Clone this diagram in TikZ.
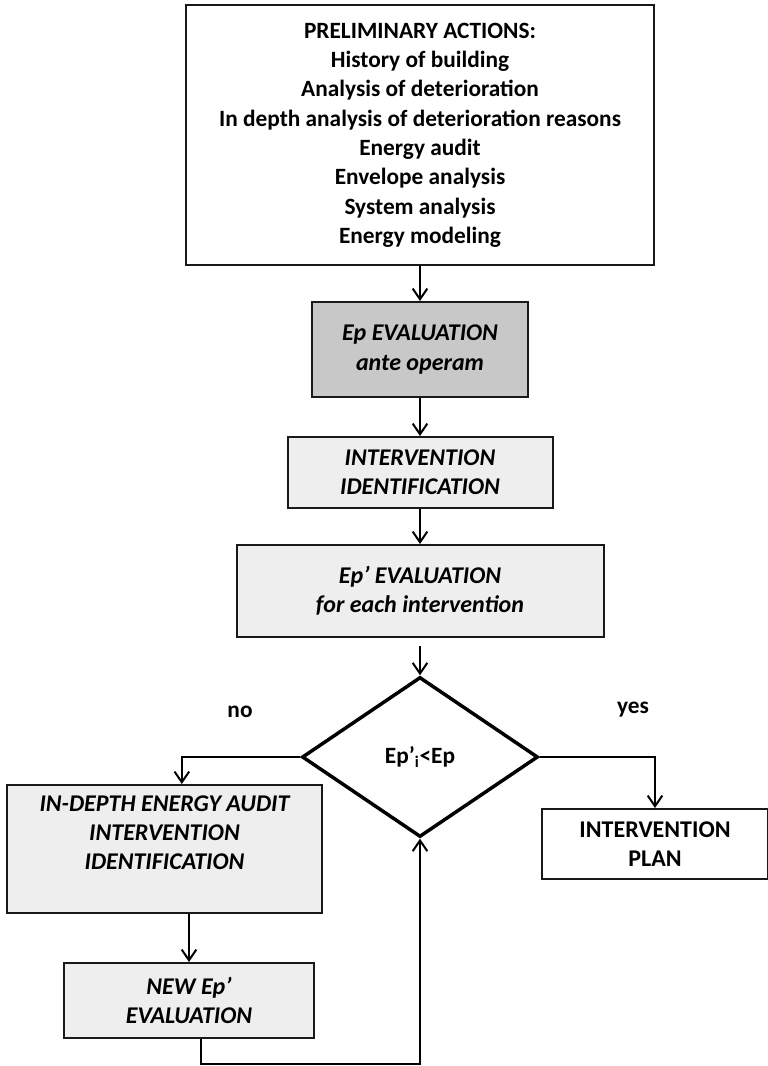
\documentclass[tikz,border=0pt]{standalone}
\usepackage{fontspec}
\setmainfont{Carlito}
\usetikzlibrary{shapes.geometric,arrows.meta}
\definecolor{opgray}{RGB}{200,200,200}
\definecolor{boxgray}{RGB}{238,238,238}

\begin{document}
\begin{tikzpicture}[x=0.75pt,y=-0.75pt,line width=1.5pt,
   box/.style={draw=black!90,fill=boxgray,align=center,inner sep=0pt,
     font=\fontsize{18}{21.8}\selectfont\bfseries\itshape},
   arr/.style={-{Straight Barb[length=8pt,width=11pt]}}]
\useasboundingbox (0,0) rectangle (767,1066);
\node[box,fill=white,font=\fontsize{17.5}{22}\selectfont\bfseries,
   minimum width=351pt,minimum height=195pt] (P) at (420,135)
   {PRELIMINARY ACTIONS:\\History of building\\Analysis of deterioration\\
    In depth analysis of deterioration reasons\\Energy audit\\Envelope analysis\\
    System analysis\\Energy modeling};
\node[box,fill=opgray,minimum width=162pt,minimum height=71.25pt] (E) at (420,349.5)
   {Ep EVALUATION\\ante operam};
\node[box,minimum width=198.75pt,minimum height=53.25pt] (I) at (420,472.5)
   {INTERVENTION\\IDENTIFICATION};
\node[box,minimum width=275.25pt,minimum height=69pt] (F) at (420,591)
   {Ep’ EVALUATION\\for each intervention};
\node[diamond,draw,line width=2.6pt,inner sep=0pt,minimum width=177pt,minimum height=120pt,
   font=\fontsize{17.5}{20}\selectfont\bfseries] (D) at (420,757) {Ep’\textsubscript{i}<Ep};
\node[box,minimum width=236.25pt,minimum height=96pt,text depth=25pt] (A) at (164.5,849)
   {IN-DEPTH ENERGY AUDIT\\INTERVENTION\\IDENTIFICATION};
\node[box,minimum width=187.5pt,minimum height=56.25pt] (N) at (189,1000.5)
   {NEW Ep’\\EVALUATION};
\node[box,fill=white,font=\fontsize{18}{21.8}\selectfont\bfseries,
   minimum width=169.5pt,minimum height=52.5pt] (Y) at (655,844)
   {INTERVENTION\\PLAN};
\node[font=\fontsize{17.5}{20}\selectfont\bfseries] (NO) at (240,712) {no};
\node[font=\fontsize{17.5}{20}\selectfont\bfseries] (YES) at (633,710) {yes};
\draw[arr] (P) -- (E);
\draw[arr] (E) -- (I);
\draw[arr] (I) -- (F);
\draw[arr,shorten <=6pt] (F) -- (D);
\draw[arr] (D.west) -| ([xshift=13pt]A.north);
\draw[arr] (D.east) -| (Y.north);
\draw[arr] (A.south -| N.north) -- (N.north);
\draw[arr] ([xshift=9pt]N.south) -- ++(0,25) -| (D.south);
\end{tikzpicture}
\end{document}
